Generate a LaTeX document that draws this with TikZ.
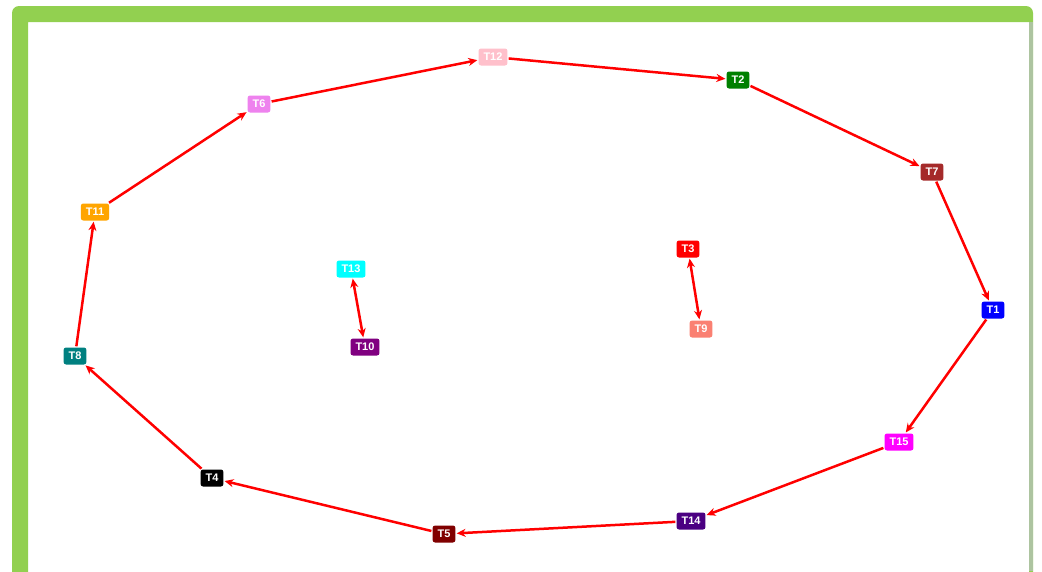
\documentclass[tikz,border=0pt]{standalone}
\usepackage{fontspec}
\setmainfont{Liberation Sans}
\usetikzlibrary{arrows.meta}
\definecolor{frameg}{HTML}{92D050}
\definecolor{frameside}{HTML}{ADC4A0}
\definecolor{cpink}{HTML}{FFC0CB}
\definecolor{cgreen}{HTML}{008000}
\definecolor{cbrown}{HTML}{A52A2A}
\definecolor{cblue}{HTML}{0000FF}
\definecolor{cmagenta}{HTML}{FF00FF}
\definecolor{cindigo}{HTML}{4B0082}
\definecolor{cmaroon}{HTML}{800000}
\definecolor{cblack}{HTML}{000000}
\definecolor{cteal}{HTML}{008080}
\definecolor{corange}{HTML}{FFA500}
\definecolor{cviolet}{HTML}{EE82EE}
\definecolor{ccyan}{HTML}{00FFFF}
\definecolor{cpurple}{HTML}{800080}
\definecolor{cred}{HTML}{FF0000}
\definecolor{csalmon}{HTML}{FA8072}
\tikzset{
  tnode/.style={rectangle, rounded corners=2.5pt, minimum height=17pt, inner xsep=5pt, inner ysep=0pt, text=white, font=\fontsize{11}{11}\selectfont\bfseries, draw=none},
  link/.style={draw=red, line width=2.5pt, -{Stealth[length=9pt,width=8pt]}, shorten >=1pt, shorten <=1pt},
  dlink/.style={draw=red, line width=2.5pt, {Stealth[length=9pt,width=8pt]}-{Stealth[length=9pt,width=8pt]}, shorten >=1pt, shorten <=1pt}
}
\begin{document}
\begin{tikzpicture}[x=1pt,y=-1pt]
\useasboundingbox (0,0) rectangle (1042,571);
\fill[white] (0,0) rectangle (1042,571);
\fill[frameg, even odd rule] [rounded corners=7pt] (12,6) rectangle (1033,590) [sharp corners] (28,22) rectangle (1029,590);
\fill[frameside] (1029,22) rectangle (1033,571);
\node[tnode, fill=cpink] (T12) at (493,57) {T12};
\node[tnode, fill=cgreen] (T2) at (738,80) {T2};
\node[tnode, fill=cbrown] (T7) at (932,172) {T7};
\node[tnode, fill=cblue] (T1) at (993,310) {T1};
\node[tnode, fill=cmagenta] (T15) at (899,442) {T15};
\node[tnode, fill=cindigo] (T14) at (691,521) {T14};
\node[tnode, fill=cmaroon] (T5) at (444,534) {T5};
\node[tnode, fill=cblack] (T4) at (212,478) {T4};
\node[tnode, fill=cteal] (T8) at (75,356) {T8};
\node[tnode, fill=corange] (T11) at (95,212) {T11};
\node[tnode, fill=cviolet] (T6) at (259,104) {T6};
\node[tnode, fill=ccyan] (T13) at (351,269) {T13};
\node[tnode, fill=cpurple] (T10) at (365,347) {T10};
\node[tnode, fill=cred] (T3) at (688,249) {T3};
\node[tnode, fill=csalmon] (T9) at (701,329) {T9};
\draw[link] (T6) -- (T12);
\draw[link] (T12) -- (T2);
\draw[link] (T2) -- (T7);
\draw[link] (T7) -- (T1);
\draw[link] (T1) -- (T15);
\draw[link] (T15) -- (T14);
\draw[link] (T14) -- (T5);
\draw[link] (T5) -- (T4);
\draw[link] (T4) -- (T8);
\draw[link] (T8) -- (T11);
\draw[link] (T11) -- (T6);
\draw[dlink] (T13) -- (T10);
\draw[dlink] (T3) -- (T9);
\end{tikzpicture}
\end{document}
